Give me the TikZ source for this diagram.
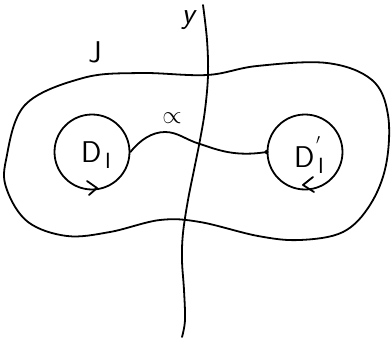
\documentclass[tikz,border=0pt]{standalone}
\begin{document}
\begin{tikzpicture}[x=1pt,y=-1pt,
  ink/.style={line width=1.8pt,line cap=round,line join=round},
  disk/.style={circle,draw,line width=1.8pt,minimum size=75pt,inner sep=0pt},
  lbl/.style={font=\fontsize{30}{34}\selectfont\sffamily,inner sep=0pt}]
\useasboundingbox (0,0) rectangle (392,343);
% outer curve J
\draw[ink] plot[smooth cycle,tension=0.6] coordinates{
 (6,160) (25,105) (83,78) (140,73) (207,75) (257,66) (327,63)
 (372,80) (388,115) (386,165) (370,205) (343,232) (300,240)
 (258,236) (200,222) (160,220) (110,232) (67,236) (28,222) (7,190)};
% curve y
\draw[ink] plot[smooth,tension=0.6] coordinates{
 (203,5) (207,40) (208,75) (205,110) (200,140) (194,170) (188,200)
 (183,233) (182,260) (184,290) (185,320) (182,337)};
% disks
\node[disk] (D1) at (92,152) {};
\node[disk] (D2) at (305,152) {};
\node[lbl] (t1) at (96,155) {D\raisebox{-6pt}{\fontsize{22}{24}\selectfont\,I}};
\node[lbl] (t2) at (309,155) {D\raisebox{-6pt}{\fontsize{22}{24}\selectfont\,I}\llap{\raisebox{16pt}{\fontsize{20}{22}\selectfont$'$\,}}};
% alpha arc
\draw[ink] (D1.east) .. controls (140,140) and (152,132) .. (165,132)
  .. controls (178,132) and (186,140) .. (200,144)
  .. controls (218,150) and (235,157) .. (D2.west);
\fill (D2.west) circle (2pt);
% orientation chevrons
\draw[ink] (87,181) -- (97,188) -- (89,195);
\draw[ink] (313,177) -- (303,185) -- (314,192);
% labels
\node[lbl] (J) at (95,52) {J};
\node[lbl] (y) at (188,20) {\itshape y};
\node[lbl,font=\fontsize{24}{28}\selectfont] (a) at (172,118) {$\propto$};
\end{tikzpicture}
\end{document}
